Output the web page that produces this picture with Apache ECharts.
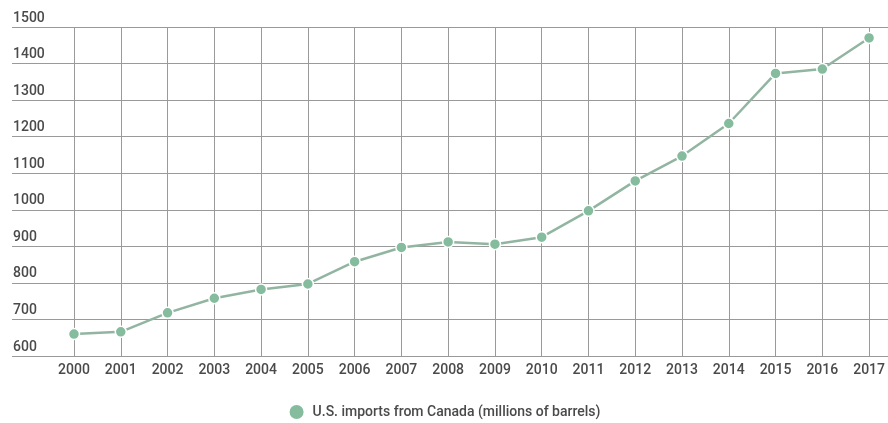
<!DOCTYPE html>
<html><head><meta charset="utf-8">
<script src="https://cdn.jsdelivr.net/npm/echarts@6/dist/echarts.min.js"></script>
<style>html,body{margin:0;padding:0;background:#fff}#c{width:888px;height:423px}</style>
</head><body><div id="c"></div>
<script>
const years = ['2000','2001','2002','2003','2004','2005','2006','2007','2008','2009','2010','2011','2012','2013','2014','2015','2016','2017'];
const imports = [660,666,718,758,782,797,858,897,912,906,925,997,1079,1147,1236,1373,1385,1470];
const seriesName = 'U.S. imports from Canada (millions of barrels)';
const yMin = 600, yMax = 1500, yStep = 100;

const chart = echarts.init(document.getElementById('c'));
chart.setOption({
  animation: false,
  textStyle: {fontFamily: 'Roboto'},
  grid: [
    {left: 12, right: 0, top: 27, bottom: 67},
    {left: 74, right: 14, top: 27, bottom: 67}
  ],
  legend: {
    bottom: -3, left: 'center',
    icon: 'circle', itemWidth: 16, itemHeight: 16, itemGap: 8,
    textStyle: {fontSize: 14, color: '#4a4a4a', fontWeight: 500, fontFamily: 'Roboto', padding: [0,0,0,3]},
    data: [seriesName]
  },
  xAxis: [
    {gridIndex: 0, type: 'value', show: false, min: 0, max: 1},
    {gridIndex: 1, type: 'category', data: years, boundaryGap: false,
     axisLine: {show: false}, axisTick: {show: false},
     axisLabel: {color: '#4a4a4a', fontSize: 14, fontWeight: 500, margin: 7},
     splitLine: {show: true, lineStyle: {color: '#9a9a9a', width: 1}}}
  ],
  yAxis: [
    {gridIndex: 0, type: 'value', min: yMin, max: yMax, interval: yStep,
     axisLine: {show: false}, axisTick: {show: false},
     axisLabel: {inside: true, color: '#4a4a4a', fontSize: 14, fontWeight: 500,
       verticalAlign: 'bottom', margin: 1, padding: [0,0,2,0],
       formatter: v => String(v)},
     splitLine: {show: true, lineStyle: {color: '#9a9a9a', width: 1.2}}},
    {gridIndex: 1, type: 'value', min: yMin, max: yMax, interval: yStep, show: false,
     splitLine: {show: false}}
  ],
  series: [{
    name: seriesName, type: 'line', xAxisIndex: 1, yAxisIndex: 1,
    data: imports, symbol: 'circle', symbolSize: 11,
    lineStyle: {color: '#92b5a2', width: 2.5},
    itemStyle: {color: '#84bc9d', borderColor: '#fff', borderWidth: 1.5}
  }]
});
</script></body></html>
